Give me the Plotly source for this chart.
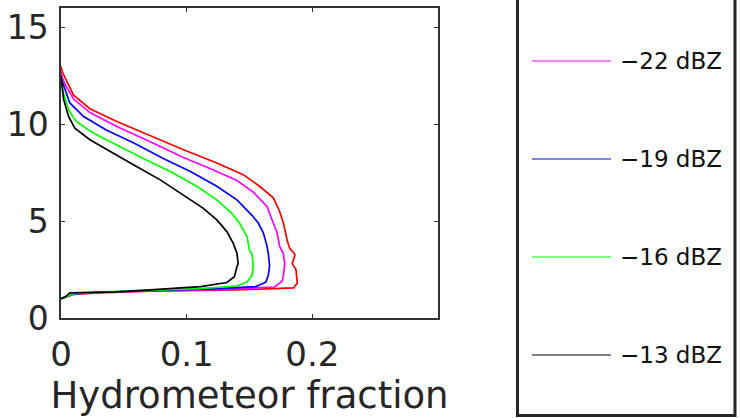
import plotly.graph_objects as go

# ---- data (hydrometeor fraction vs height, km) ----
labels = ["−25 dBZ", "−22 dBZ", "−19 dBZ", "−16 dBZ", "−13 dBZ"]
colors = ["#ff0000", "#ff00ff", "#0000ff", "#00ff00", "#000000"]

red_x = [0.0, 0.004, 0.010, 0.030, 0.070, 0.110, 0.140, 0.185, 0.188, 0.187, 0.184, 0.186, 0.186, 0.182, 0.180,
         0.177, 0.174, 0.169, 0.158, 0.145, 0.124, 0.097, 0.071, 0.044, 0.023, 0.010, 0.004, 0.001, 0.0]
red_y = [1.0, 1.08, 1.22, 1.30, 1.38, 1.42, 1.45, 1.55, 1.80, 2.50, 2.80, 3.20, 3.30, 3.60, 4.00,
         4.90, 5.50, 6.20, 6.80, 7.40, 8.00, 8.70, 9.40, 10.15, 10.80, 11.50, 12.30, 12.70, 13.00]

mag_x = [0.0, 0.004, 0.010, 0.030, 0.070, 0.110, 0.130, 0.170, 0.176, 0.177, 0.178, 0.177, 0.174, 0.172,
         0.168, 0.164, 0.153, 0.140, 0.119, 0.097, 0.071, 0.044, 0.023, 0.010, 0.004, 0.001, 0.0]
mag_y = [1.0, 1.10, 1.24, 1.32, 1.40, 1.45, 1.48, 1.60, 1.90, 2.20, 2.80, 3.30, 3.70, 4.40,
         5.06, 5.75, 6.50, 7.10, 7.70, 8.30, 9.10, 9.90, 10.60, 11.30, 11.95, 12.40, 12.70]

blu_x = [0.0, 0.004, 0.010, 0.030, 0.070, 0.110, 0.120, 0.155, 0.163, 0.165, 0.166, 0.165, 0.164, 0.161,
         0.157, 0.152, 0.140, 0.124, 0.103, 0.081, 0.058, 0.036, 0.018, 0.007, 0.003, 0.001, 0.0]
blu_y = [1.0, 1.10, 1.25, 1.33, 1.42, 1.48, 1.50, 1.62, 1.85, 2.20, 2.70, 3.30, 3.70, 4.40,
         4.90, 5.30, 6.10, 6.80, 7.56, 8.25, 9.03, 9.70, 10.40, 11.10, 11.80, 12.20, 12.50]

grn_x = [0.0, 0.004, 0.010, 0.030, 0.070, 0.110, 0.140, 0.148, 0.152, 0.153, 0.152, 0.150, 0.148, 0.142,
         0.136, 0.124, 0.108, 0.087, 0.065, 0.044, 0.026, 0.012, 0.006, 0.002, 0.001, 0.0]
grn_y = [1.0, 1.10, 1.26, 1.34, 1.44, 1.52, 1.65, 1.85, 2.20, 2.70, 3.30, 3.50, 4.20, 4.90,
         5.40, 6.10, 6.80, 7.56, 8.25, 8.94, 9.54, 10.15, 10.75, 11.60, 12.00, 12.30]

blk_x = [0.0, 0.004, 0.007, 0.044, 0.071, 0.111, 0.132, 0.138, 0.140, 0.141, 0.140, 0.137, 0.132, 0.124,
         0.113, 0.097, 0.079, 0.058, 0.039, 0.023, 0.011, 0.006, 0.002, 0.001, 0.0]
blk_y = [1.0, 1.12, 1.30, 1.35, 1.45, 1.62, 1.83, 2.13, 2.65, 2.80, 3.34, 3.86, 4.46, 5.06,
         5.67, 6.36, 7.13, 7.90, 8.60, 9.20, 9.80, 10.40, 11.30, 12.10, 12.50]

series_x = [red_x, mag_x, blu_x, grn_x, blk_x]
series_y = [red_y, mag_y, blu_y, grn_y, blk_y]

x_ticks = [0, 0.1, 0.2]
x_ticktext = ["0", "0.1", "0.2"]
y_ticks = [0, 5, 10, 15]

# legend entries visible in the picture (the first one is above the frame)
legend_idx = [1, 2, 3, 4]

FONT = "DejaVu Sans"
TXT = "#262626"

fig = go.Figure()
for xs, ys, c, lab in zip(series_x, series_y, colors, labels):
    fig.add_trace(go.Scatter(x=xs, y=ys, mode="lines", name=lab,
                             line=dict(color=c, width=1.7), showlegend=False))

# manual legend (box extends above the visible page)
L, T, PW, PH = 61, 8, 377, 310
def px(xp):
    return (xp - L) / PW
def py(yp):
    return (T + PH - yp) / PH

shapes = [dict(type="rect", xref="paper", yref="paper",
               x0=px(517.5), x1=px(735), y0=py(415.5), y1=py(-10),
               line=dict(color="#262626", width=3), fillcolor="white", layer="below")]
annotations = []
for k, i in enumerate(legend_idx):
    yl = 61 + 98 * k
    shapes.append(dict(type="line", xref="paper", yref="paper",
                       x0=px(532), x1=px(611), y0=py(yl), y1=py(yl),
                       line=dict(color=colors[i], width=1.2)))
    annotations.append(dict(xref="paper", yref="paper", x=px(618), y=py(yl),
                            xanchor="left", yanchor="middle", showarrow=False,
                            text=labels[i], font=dict(family=FONT, size=23, color="#111111")))

fig.update_layout(
    width=740, height=418,
    margin=dict(l=L, r=740 - L - PW, t=T, b=418 - T - PH),
    paper_bgcolor="white", plot_bgcolor="white",
    shapes=shapes, annotations=annotations,
    font=dict(family=FONT, color=TXT),
)
fig.update_xaxes(range=[0, 0.3], tickvals=x_ticks, ticktext=x_ticktext, automargin=False,
                 showgrid=False, zeroline=False, showline=True, linecolor="#333333", linewidth=1.5,
                 mirror="ticks", ticks="inside", ticklen=4, tickcolor="#333333",
                 tickfont=dict(family=FONT, size=34, color=TXT), ticklabelstandoff=5,
                 title=dict(text="Hydrometeor fraction", font=dict(family=FONT, size=37, color=TXT), standoff=9))
fig.update_yaxes(range=[0, 16], tickvals=y_ticks, automargin=False,
                 showgrid=False, zeroline=False, showline=True, linecolor="#333333", linewidth=1.5,
                 mirror="ticks", ticks="inside", ticklen=4, tickcolor="#333333",
                 tickfont=dict(family=FONT, size=33, color=TXT), ticklabelstandoff=4)

fig.write_html("out.html")
